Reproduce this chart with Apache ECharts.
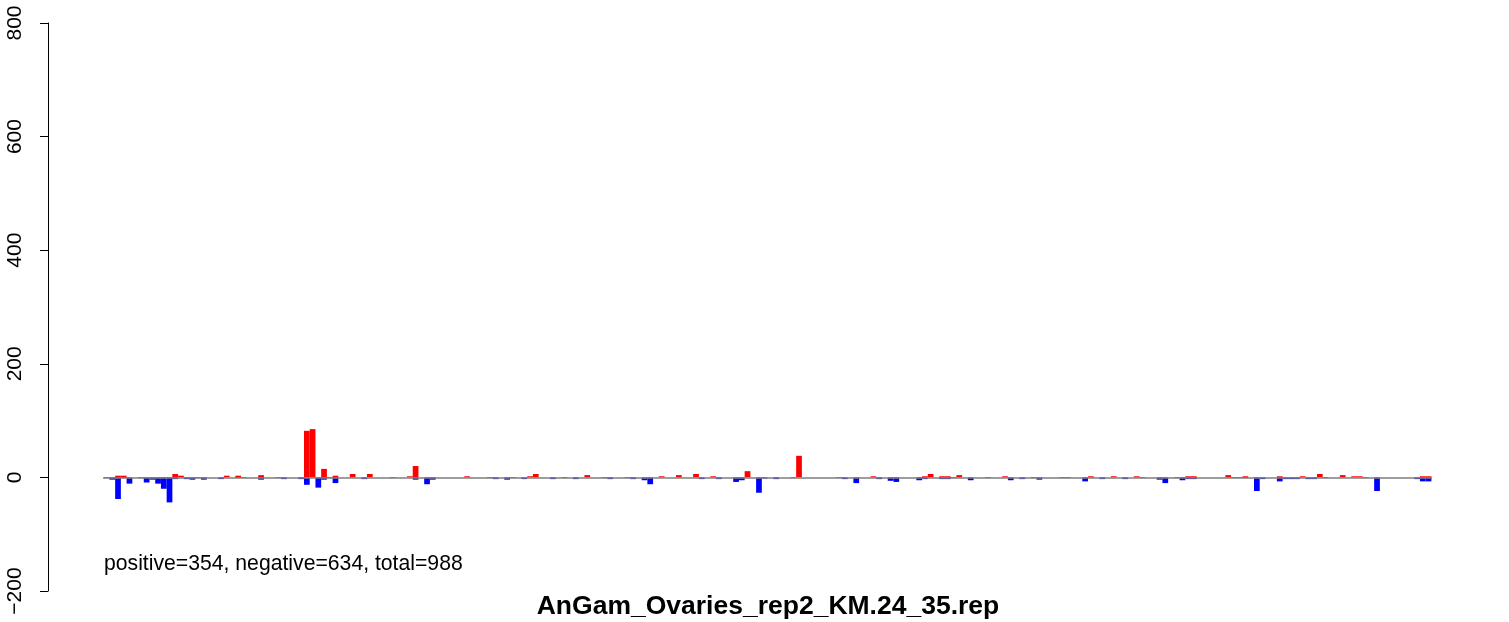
<!DOCTYPE html>
<html>
<head>
<meta charset="utf-8">
<script src="https://cdn.jsdelivr.net/npm/echarts@6/dist/echarts.min.js"></script>
<style>
  html, body { margin: 0; padding: 0; background: #ffffff; }
  #chart { width: 1509px; height: 622px; }
</style>
</head>
<body>
<div id="chart"></div>
<script>
// Counts per position
const positive = [
  0,0,3,3,0,0,0,0,0,0,0,0,6,3,0,0,0,0,0,0,
  0,3,0,3,0,0,0,4,0,0,0,0,0,0,0,82,85,0,15,0,
  3,0,0,6,0,0,6,0,0,0,0,0,0,2,20,0,0,0,0,0,
  0,0,0,2,0,0,0,0,0,0,0,0,0,0,2,6,0,0,0,0,
  0,0,0,0,4,0,0,0,0,0,0,0,0,0,0,0,0,2,0,0,
  4,0,0,6,0,0,2,0,0,0,0,0,11,0,0,0,0,0,0,0,
  0,38,0,0,0,0,0,0,0,0,0,0,0,0,2,0,0,0,0,0,
  0,0,0,2,6,0,2,2,0,4,0,0,0,0,0,0,0,2,0,0,
  0,0,0,0,0,0,0,0,0,0,0,0,2,0,0,0,2,0,0,0,
  2,0,0,0,0,0,0,0,0,2,2,0,0,0,0,0,4,0,0,2,
  0,0,0,0,0,2,0,0,0,2,0,0,6,0,0,0,4,0,2,2,
  0,0,0,0,0,0,0,0,0,0,2,2
];
const negative = [
  -1,-4,-38,-1,-11,0,-1,-9,-4,-11,-20,-44,-3,0,-3,-4,-1,-4,0,0,
  -3,0,0,-1,-1,0,0,-4,0,0,-1,-3,0,0,-3,-13,0,-18,-4,-1,
  -10,0,0,0,0,-3,0,0,0,0,-1,0,0,0,-4,0,-12,-4,0,0,
  0,0,0,0,0,0,0,-1,-3,0,-4,-1,0,-3,0,0,0,0,-3,0,
  -1,0,-3,0,0,0,0,-1,-3,0,0,-1,-3,0,-5,-12,0,0,0,0,
  0,0,0,0,-3,0,0,-3,0,0,-8,-5,0,0,-27,-2,0,-3,0,0,
  -1,0,0,0,0,0,0,0,-1,-3,0,-10,0,0,0,-3,0,-6,-8,0,
  0,0,-5,-3,0,0,-3,-3,-1,0,0,-5,0,0,-1,0,0,0,-5,0,
  -3,0,-1,-4,0,0,0,-1,-1,0,0,-7,0,0,-3,0,0,0,-3,0,
  0,-1,0,0,-4,-10,0,-1,-5,-3,-3,0,0,0,0,0,0,-1,-1,-1,
  0,-24,-3,0,0,-7,-3,-3,-3,0,-3,-3,0,-1,0,0,0,0,0,0,
  -1,0,-24,0,0,0,0,0,0,-3,-7,-7
];
const categories = positive.map((_, i) => String(i + 1));
const yTicks = [-200, 0, 200, 400, 600, 800];
const titleText = 'AnGam_Ovaries_rep2_KM.24_35.rep';
const summaryText = 'positive=354, negative=634, total=988';

const chart = echarts.init(document.getElementById('chart'), null, { renderer: 'canvas' });
const FONT = '"Liberation Sans", Arial, Helvetica, sans-serif';

chart.setOption({
  animation: false,
  backgroundColor: '#ffffff',
  grid: { left: 103.7, right: 77.6, top: 23, bottom: 31, containLabel: false },
  xAxis: {
    type: 'category',
    data: categories,
    z: 10,
    axisLine: { show: true, onZero: true, lineStyle: { color: '#7f7f7f', width: 1.5 } },
    axisTick: { show: false },
    axisLabel: { show: false },
    splitLine: { show: false }
  },
  yAxis: {
    type: 'value',
    min: yTicks[0],
    max: yTicks[yTicks.length - 1],
    interval: 200,
    offset: 55.7,
    axisLine: { show: true, lineStyle: { color: '#000000', width: 1 } },
    axisTick: { show: true, length: 8, lineStyle: { color: '#000000', width: 1 } },
    axisLabel: {
      show: true,
      rotate: 90,
      margin: 22,
      fontSize: 21,
      fontFamily: FONT,
      color: '#000000',
      formatter: v => String(v).replace('-', '\u2212')
    },
    splitLine: { show: false }
  },
  series: [
    {
      name: 'positive',
      type: 'bar',
      data: positive,
      barWidth: '100%',
      barGap: '-100%',
      itemStyle: { color: '#ff0000' }
    },
    {
      name: 'negative',
      type: 'bar',
      data: negative,
      barWidth: '100%',
      barGap: '-100%',
      itemStyle: { color: '#0000ff' }
    }
  ],
  graphic: [
    {
      type: 'text',
      style: {
        text: summaryText,
        x: 104, y: 564,
        font: '21.2px ' + FONT,
        fill: '#000000',
        align: 'left',
        verticalAlign: 'middle'
      }
    },
    {
      type: 'text',
      style: {
        text: titleText,
        x: 768, y: 606.5,
        font: 'bold 26.5px ' + FONT,
        fill: '#000000',
        align: 'center',
        verticalAlign: 'middle'
      }
    }
  ]
});
</script>
</body>
</html>
